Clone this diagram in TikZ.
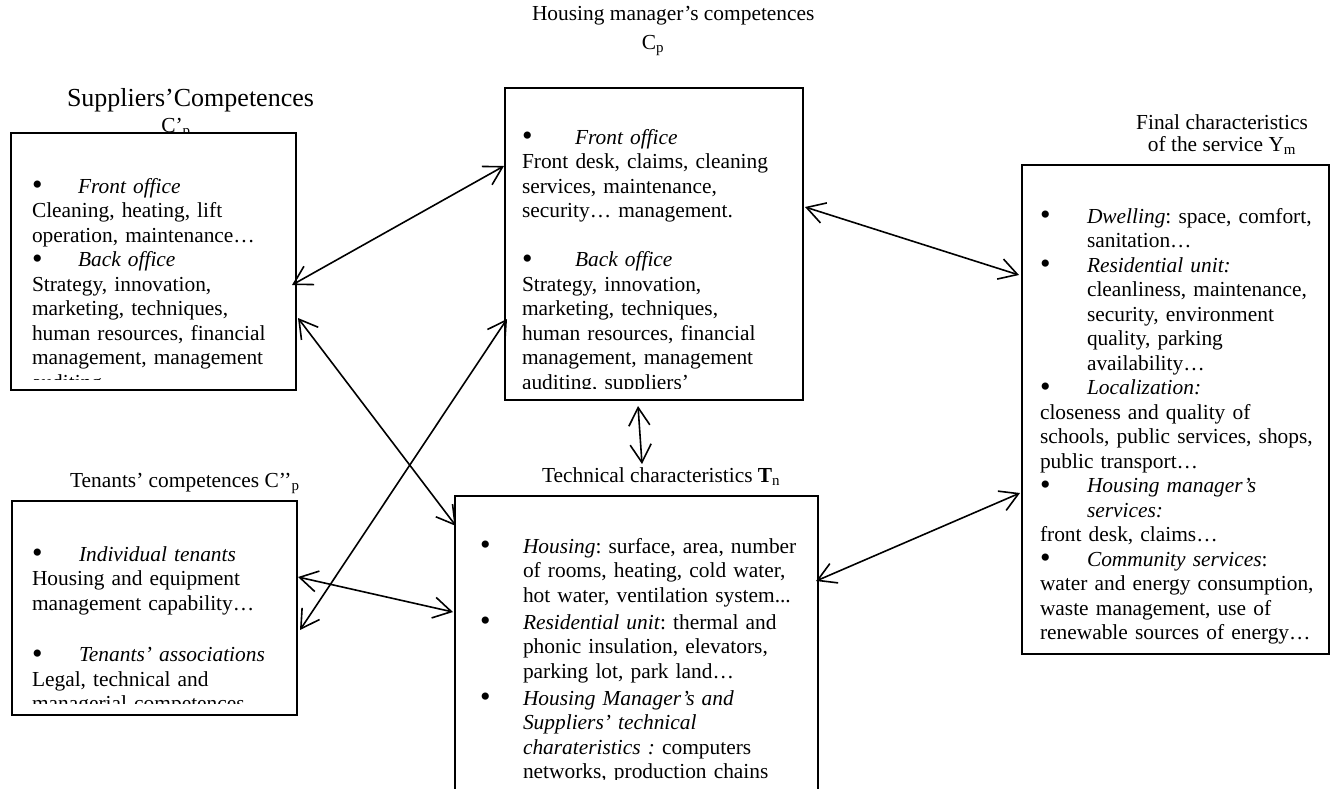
\documentclass[tikz,border=0pt]{standalone}
\usepackage{fontspec}
\usepackage{graphicx}
\setmainfont{Liberation Serif}
\usetikzlibrary{arrows.meta}
% bullet followed by an italic heading, and a plain indent of the same width
\newcommand{\bigbullet}{\raisebox{-0.08em}{\scalebox{1.4}{\textbullet}}}
\newcommand{\bul}[2][46pt]{\makebox[#1][l]{\bigbullet}\textit{#2}}
\newcommand{\ind}[1][46pt]{\hspace*{#1}}
\begin{document}
\begin{tikzpicture}[x=1pt,y=-1pt,
  every node/.style={inner sep=0pt, outer sep=0pt},
  txt/.style={font=\fontsize{21.4}{24.5}\selectfont\frenchspacing},
  body/.style={txt, anchor=base west, text width=330pt, align=left},
  box/.style={draw, line width=1.6pt, fill=white, anchor=north west},
  link/.style={line width=1.6pt, {Straight Barb[length=18pt,width=21pt]}-{Straight Barb[length=18pt,width=21pt]}}]
\useasboundingbox (0,0) rectangle (1332,788);
\clip (0,0) rectangle (1332,788);

% ---- titles ----
\node[txt, anchor=base west] (hmtitle) at (532,20) {Housing manager’s competences};
\node[txt, anchor=base] (hmsym) at (653,49) {C\textsubscript{p}};
\node[font=\fontsize{26}{30}\selectfont, anchor=base west] (suptitle) at (67,106) {Suppliers’Competences};
\node[txt, anchor=base] (supsym) at (176,132) {C’\textsubscript{p}};
\node[txt, anchor=base west] (tentitle) at (70,487) {Tenants’ competences C’’\textsubscript{p}};
\node[txt, anchor=base west] (techtitle) at (542,482) {Technical characteristics \textbf{T}\textsubscript{n}};
\node[txt, anchor=base] (fintitlea) at (1222,129) {Final characteristics};
\node[txt, anchor=base] (fintitleb) at (1222,151) {of the service Y\textsubscript{m}};

% ---- boxes ----
\node[box, minimum width=285pt, minimum height=257pt] (sbox) at (11,133) {};
\node[box, minimum width=298pt, minimum height=312pt] (hbox) at (505,88) {};
\node[box, minimum width=285pt, minimum height=214pt] (tbox) at (12,501) {};
\node[box, minimum width=363pt, minimum height=330pt] (cbox) at (455,496) {};
\node[box, minimum width=307pt, minimum height=489pt] (fbox) at (1022,165) {};

% ---- box contents ----
\begin{scope}
\clip (12,134) rectangle (295,379);
\node[body] (stext) at (32,193) {\bul{Front office}\\
Cleaning, heating, lift\\
operation, maintenance…\\
\bul{Back office}\\
Strategy, innovation,\\
marketing, techniques,\\
human resources, financial\\
management, management\\
auditing…};
\end{scope}

\begin{scope}
\clip (506,89) rectangle (802,388);
\node[body] (htext) at (522,144) {\bul[53pt]{Front office}\\
Front desk, claims, cleaning\\
services, maintenance,\\
security… management.\\[24.5pt]
\bul[53pt]{Back office}\\
Strategy, innovation,\\
marketing, techniques,\\
human resources, financial\\
management, management\\
auditing, suppliers’};
\end{scope}

\begin{scope}
\clip (13,502) rectangle (296,703);
\node[body] (ttext) at (32,561) {\bul[47pt]{Individual tenants}\\
Housing and equipment\\
management capability…\\[27pt]
\bul[47pt]{Tenants’ associations}\\
Legal, technical and\\
managerial competences};
\end{scope}

\begin{scope}
\clip (456,497) rectangle (817,779);
\node[body] (ctext) at (480,553) {\bul[43pt]{Housing}: surface, area, number\\
\ind[43pt]of rooms, heating, cold water,\\
\ind[43pt]hot water, ventilation system...\\[2.5pt]
\bul[43pt]{Residential unit}: thermal and\\
\ind[43pt]phonic insulation, elevators,\\
\ind[43pt]parking lot, park land…\\[2.5pt]
\bul[43pt]{Housing Manager’s and}\\
\ind[43pt]\textit{Suppliers’ technical}\\
\ind[43pt]\textit{charateristics :} computers\\
\ind[43pt]networks, production chains};
\end{scope}

\begin{scope}
\clip (1023,166) rectangle (1328,650);
\node[body] (ftext) at (1040,223) {\bul[47pt]{Dwelling}: space, comfort,\\
\ind[47pt]sanitation…\\
\bul[47pt]{Residential unit:}\\
\ind[47pt]cleanliness, maintenance,\\
\ind[47pt]security, environment\\
\ind[47pt]quality, parking\\
\ind[47pt]availability…\\
\bul[47pt]{Localization:}\\
closeness and quality of\\
schools, public services, shops,\\
public transport…\\
\bul[47pt]{Housing manager’s}\\
\ind[47pt]\textit{services:}\\
front desk, claims…\\
\bul[47pt]{Community services}:\\
water and energy consumption,\\
waste management, use of\\
renewable sources of energy…};
\end{scope}

% ---- connector end points ----
\coordinate (sh1) at (292,285);   \coordinate (hs1) at (504,166);
\coordinate (sc1) at (298,318);   \coordinate (cs1) at (456,526);
\coordinate (th1) at (300,630);   \coordinate (ht1) at (507,319);
\coordinate (tc1) at (298,577);   \coordinate (ct1) at (453,612);
\coordinate (hc1) at (638,406);   \coordinate (ch1) at (642,464);
\coordinate (hf1) at (805,207);   \coordinate (fh1) at (1019,275);
\coordinate (cf1) at (816,581);   \coordinate (fc1) at (1020,493);

% ---- connectors ----
\draw[link] (sh1) -- (hs1);
\draw[link] (sc1) -- (cs1);
\draw[link] (th1) -- (ht1);
\draw[link] (tc1) -- (ct1);
\draw[link] (hc1) -- (ch1);
\draw[link] (hf1) -- (fh1);
\draw[link] (cf1) -- (fc1);
\end{tikzpicture}
\end{document}
